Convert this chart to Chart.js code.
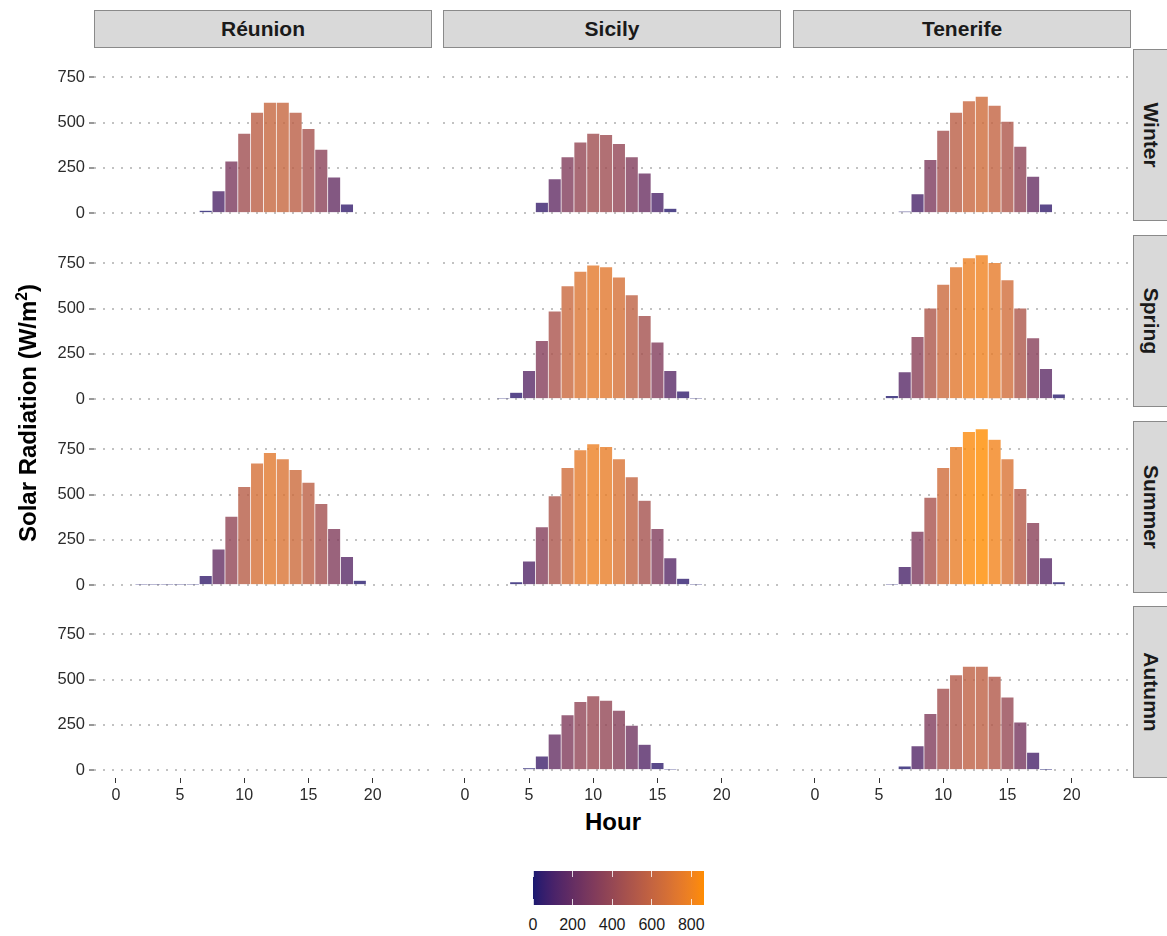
<!DOCTYPE html>
<html><head><meta charset="utf-8">
<script src="https://cdn.jsdelivr.net/npm/chart.js@4.4.1/dist/chart.umd.min.js"></script>
<style>
body{margin:0;background:#fff;}
#root{position:relative;width:1167px;height:936px;overflow:hidden;font-family:"Liberation Sans",Arial,sans-serif;background:#fff;}
.strip{position:absolute;background:#d9d9d9;border:1px solid #8a8a8a;box-sizing:border-box;display:flex;align-items:center;justify-content:center;font-weight:bold;color:#1a1a1a;font-size:21px;}
.strip.r span{display:inline-block;transform:rotate(90deg);white-space:nowrap;}
canvas{position:absolute;}
.t{position:absolute;white-space:nowrap;}
</style></head><body><div id="root"></div>
<script>
// ---- data (index = hour 0..23, null = no bar) ----
const sites = ["Réunion", "Sicily", "Tenerife"];
const seasons = ["Winter", "Spring", "Summer", "Autumn"];
const xTicks = [0, 5, 10, 15, 20];
const yTicks = [0, 250, 500, 750];
const legendTicks = [0, 200, 400, 600, 800];
const N = null;
const reunionWinter  = [N,N,N,N,N,N,N,15,123,287,441,557,612,612,557,467,353,199,50,N,N,N,N,N];
const reunionSpring  = [];
const reunionSummer  = [N,N,4,4,4,4,4,53,199,380,544,674,732,698,639,568,451,313,158,26,N,N,N,N];
const reunionAutumn  = [];
const sicilyWinter   = [N,N,N,N,N,N,59,189,311,392,441,434,384,311,221,114,26,N,N,N,N,N,N,N];
const sicilySpring   = [N,N,N,4,37,158,324,486,626,706,741,731,674,577,462,315,158,44,4,N,N,N,N,N];
const sicilySummer   = [N,N,N,N,18,133,322,494,649,748,781,765,698,599,468,313,151,37,4,N,N,N,N,N];
const sicilyAutumn   = [N,N,N,N,N,11,77,199,305,379,410,386,331,248,142,42,4,N,N,N,N,N,N,N];
const tenerifeWinter = [N,N,N,N,N,N,N,9,107,296,458,557,621,645,596,507,369,204,50,N,N,N,N,N];
const tenerifeSpring = [N,N,N,N,N,N,20,151,346,503,634,731,781,798,755,659,503,339,169,28,N,N,N,N];
const tenerifeSummer = [N,N,N,N,N,N,4,103,297,485,649,765,848,864,805,698,534,346,151,18,N,N,N,N];
const tenerifeAutumn = [N,N,N,N,N,N,N,22,134,313,452,526,574,574,518,403,265,99,2,N,N,N,N,N];

const grid = [
  [reunionWinter, sicilyWinter, tenerifeWinter],
  [reunionSpring, sicilySpring, tenerifeSpring],
  [reunionSummer, sicilySummer, tenerifeSummer],
  [reunionAutumn, sicilyAutumn, tenerifeAutumn]
];

// ---- colour scale (Lab gradient midnightblue -> darkorange) ----
function toLin(c){c/=255;return c<=0.04045?c/12.92:Math.pow((c+0.055)/1.055,2.4);}
function toS(c){c=c<=0.0031308?12.92*c:1.055*Math.pow(c,1/2.4)-0.055;return Math.round(Math.max(0,Math.min(1,c))*255);}
function rgb2lab(r,g,b){r=toLin(r);g=toLin(g);b=toLin(b);
  let X=(0.4124564*r+0.3575761*g+0.1804375*b)/0.95047,Y=(0.2126729*r+0.7151522*g+0.0721750*b),Z=(0.0193339*r+0.1191920*g+0.9503041*b)/1.08883;
  const f=t=>t>0.008856?Math.cbrt(t):7.787*t+16/116;const fx=f(X),fy=f(Y),fz=f(Z);
  return [116*fy-16,500*(fx-fy),200*(fy-fz)];}
function lab2rgb(L,a,b){const fy=(L+16)/116,fx=fy+a/500,fz=fy-b/200;
  const fi=t=>t*t*t>0.008856?t*t*t:(t-16/116)/7.787;
  const X=fi(fx)*0.95047,Y=fi(fy),Z=fi(fz)*1.08883;
  const r=3.2404542*X-1.5371385*Y-0.4985314*Z,g=-0.9692660*X+1.8760108*Y+0.0415560*Z,bb=0.0556434*X-0.2040259*Y+1.0572252*Z;
  return [toS(r),toS(g),toS(bb)];}
const LOW=rgb2lab(25,25,112), HIGH=rgb2lab(255,140,0);
let vmax=0; grid.forEach(r=>r.forEach(a=>a.forEach(v=>{if(v!=null&&v>vmax)vmax=v;})));
function colorFor(v,alpha){const t=Math.max(0,Math.min(1,v/vmax));
  const c=lab2rgb(LOW[0]+(HIGH[0]-LOW[0])*t,LOW[1]+(HIGH[1]-LOW[1])*t,LOW[2]+(HIGH[2]-LOW[2])*t);
  return `rgba(${c[0]},${c[1]},${c[2]},${alpha})`;}

// ---- layout ----
const root=document.getElementById('root');
const colX=[94,443,793], rowY=[49,235,421,606], PW=339, PH=172, YW=60, XH=30;
const yMin=-0.05*vmax, yMax=vmax*1.05;
const FONT='"Liberation Sans", Arial, sans-serif';

function el(cls,css,html){const d=document.createElement('div');d.className=cls;Object.assign(d.style,css);d.innerHTML=html;root.appendChild(d);return d;}

sites.forEach((s,i)=>el('strip',{left:colX[i]+'px',top:'10px',width:(PW-1)+'px',height:'38px'},s));
seasons.forEach((s,j)=>el('strip r',{left:'1133px',top:rowY[j]+'px',width:'36px',height:PH+'px'},'<span>'+s+'</span>'));

for(let r=0;r<4;r++){
  for(let c=0;c<3;c++){
    const isLeft=c===0,isBottom=r===3;
    const arr=grid[r][c];
    const pts=[],cols=[];
    arr.forEach((v,h)=>{if(v!=null){pts.push({x:h,y:v});cols.push(colorFor(v,0.8));}});
    const cv=document.createElement('canvas');
    const w=PW+(isLeft?YW:0),h=PH+(isBottom?XH:0);
    cv.width=w;cv.height=h;cv.style.left=(colX[c]-(isLeft?YW:0))+'px';cv.style.top=rowY[r]+'px';
    cv.style.width=w+'px';cv.style.height=h+'px';
    root.appendChild(cv);
    new Chart(cv,{type:'bar',
      data:{datasets:[{data:pts,backgroundColor:cols,borderColor:'rgba(255,255,255,0.25)',borderWidth:0.7,
        barPercentage:1,categoryPercentage:1,borderSkipped:'bottom'}]},
      options:{responsive:false,animation:false,devicePixelRatio:1,
        layout:{padding:0},
        plugins:{legend:{display:false},tooltip:{enabled:false}},
        scales:{
          x:{type:'linear',min:-1.7,max:24.7,offset:false,display:isBottom,
            grid:{display:true,offset:false,drawOnChartArea:false,drawTicks:true,tickLength:5,tickColor:'#333',tickWidth:1},
            border:{display:false},
            ticks:{font:{family:FONT,size:16},color:'#2b2b2b',padding:3,maxRotation:0,autoSkip:false},
            afterBuildTicks:s=>{s.ticks=xTicks.map(v=>({value:v}));},
            afterFit:s=>{s.height=isBottom?XH:0;s.paddingLeft=0;s.paddingRight=0;}
          },
          y:{type:'linear',min:yMin,max:yMax,position:'left',
            grid:{color:'#c2c2c2',lineWidth:2,drawTicks:isLeft,tickLength:5,tickColor:'#333',tickWidth:1,tickBorderDash:[0,0]},
            border:{display:false,dash:[2,7]},
            ticks:{display:isLeft,font:{family:FONT,size:16.5},color:'#2b2b2b',padding:4},
            afterBuildTicks:s=>{s.ticks=yTicks.map(v=>({value:v}));},
            afterFit:s=>{s.width=isLeft?YW:0;s.paddingTop=0;s.paddingBottom=0;}
          }
        }
      }
    });
  }
}

el('t',{left:(28-250)+'px',top:(413-15)+'px',width:'500px',height:'30px',textAlign:'center',transform:'rotate(-90deg)',fontWeight:'bold',fontSize:'24px',color:'#000',lineHeight:'30px'},
  'Solar Radiation (W/m<sup style="font-size:65%;line-height:0">2</sup>)');
el('t',{left:(613-100)+'px',top:'808px',width:'200px',textAlign:'center',fontWeight:'bold',fontSize:'24px',color:'#000',lineHeight:'28px'},'Hour');

const LX=533,LW=171,LY=871,LH=34;
let stops=[];for(let i=0;i<=40;i++){stops.push(colorFor(vmax*i/40,1)+' '+(i*2.5)+'%');}
el('t',{left:LX+'px',top:LY+'px',width:LW+'px',height:LH+'px',background:'linear-gradient(to right,'+stops.join(',')+')'},'');
legendTicks.forEach(v=>{
  const x=LX+v/vmax*LW;
  el('t',{left:(x-0.5)+'px',top:LY+'px',width:'1px',height:'6px',background:'rgba(255,255,255,0.8)'},'');
  el('t',{left:(x-0.5)+'px',top:(LY+LH-6)+'px',width:'1px',height:'6px',background:'rgba(255,255,255,0.8)'},'');
  el('t',{left:(x-30)+'px',top:'915px',width:'60px',textAlign:'center',fontSize:'16px',color:'#1a1a1a',lineHeight:'20px'},String(v));
});
</script></body></html>
